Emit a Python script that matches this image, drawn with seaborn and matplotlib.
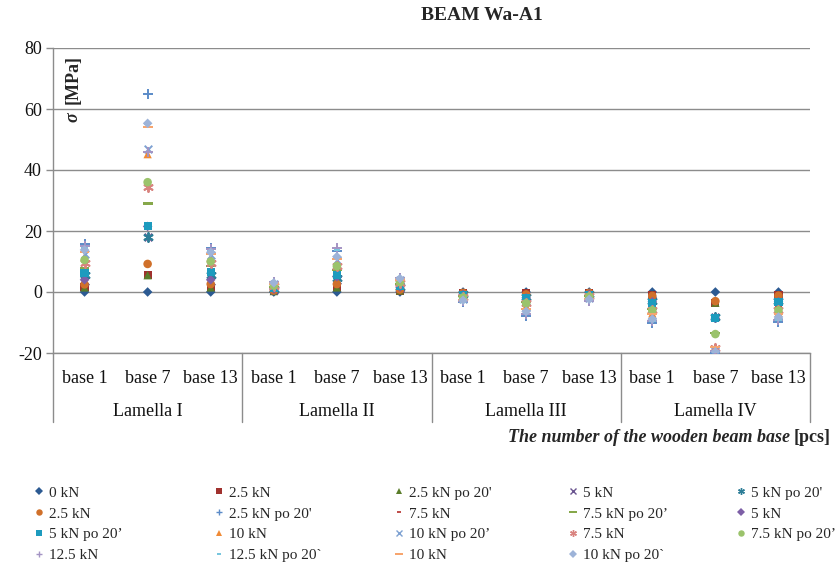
import numpy as np
import pandas as pd
import matplotlib
matplotlib.use("Agg")
import matplotlib.pyplot as plt
import matplotlib.transforms as mtransforms
from matplotlib.lines import Line2D
import seaborn as sns

# ---------------- data ----------------
lamellas = ["Lamella I", "Lamella II", "Lamella III", "Lamella IV"]
bases = ["base 1", "base 7", "base 13"]
categories = [f"{l} | {b}" for l in lamellas for b in bases]

y_ticks = [-20, 0, 20, 40, 60, 80]
title = "BEAM Wa-A1"

series_labels = ["0 kN", "2.5 kN", "2.5 kN po 20'", "5 kN", "5 kN po 20'",
                 "2.5 kN", "2.5 kN po 20'", "7.5 kN", "7.5 kN po 20’", "5 kN",
                 "5 kN po 20’", "10 kN", "10 kN po 20’", "7.5 kN", "7.5 kN po 20’",
                 "12.5 kN", "12.5 kN po 20`", "10 kN", "10 kN po 20`"]

s01 = [0.0, 0.0, 0.0, 0.0, 0.0, 0.0, 0.0, 0.0, 0.0, 0.0, 0.0, 0.0]
s02 = [1.5, 5.5, 1.5, 0.3, 1.5, 0.5, -0.2, -0.5, -0.2, -1.0, -3.5, -1.0]
s03 = [1.5, 5.5, 1.5, 0.3, 1.5, 0.5, -0.2, -0.5, -0.2, -1.0, -3.5, -1.0]
s04 = [3.5, 18.0, 3.5, 0.8, 4.0, 1.2, -0.5, -1.5, -0.5, -2.5, -8.3, -2.5]
s05 = [5.5, 18.0, 5.5, 1.0, 4.5, 1.5, -0.7, -1.7, -0.6, -3.0, -8.3, -3.0]
s06 = [2.5, 9.2, 2.6, 0.5, 2.6, 0.8, -0.3, -0.8, -0.3, -1.3, -3.0, -1.2]
s07 = [15.6, 65.0, 14.5, 3.4, 13.5, 4.7, -3.3, -7.8, -3.0, -10.0, -19.9, -9.8]
s08 = [7.0, 29.0, 7.5, 1.5, 7.0, 2.3, -1.2, -3.0, -1.0, -5.0, -13.5, -4.8]
s09 = [8.0, 29.0, 8.5, 1.7, 7.2, 2.6, -1.4, -3.2, -1.2, -5.5, -13.5, -5.2]
s10 = [4.0, 21.5, 4.0, 1.0, 5.0, 1.6, -0.8, -1.9, -0.7, -3.2, -8.6, -3.2]
s11 = [6.2, 21.6, 6.5, 1.3, 5.5, 2.0, -1.0, -2.0, -0.9, -3.6, -8.5, -3.2]
s12 = [11.5, 45.2, 11.0, 2.4, 9.5, 3.6, -2.1, -4.6, -1.8, -7.0, -18.0, -6.8]
s13 = [12.5, 46.9, 12.0, 2.6, 10.5, 3.9, -2.4, -5.0, -2.0, -7.5, -19.3, -7.5]
s14 = [9.5, 34.5, 9.5, 2.0, 8.5, 3.0, -1.7, -3.6, -1.4, -6.0, -18.3, -5.8]
s15 = [10.5, 36.0, 10.0, 2.1, 8.5, 3.2, -1.8, -3.7, -1.5, -6.0, -13.8, -6.0]
s16 = [15.0, 46.0, 14.0, 3.2, 14.5, 4.5, -3.0, -7.3, -2.8, -9.5, -19.5, -9.3]
s17 = [14.5, 55.0, 13.5, 3.1, 13.8, 4.3, -3.1, -7.0, -2.7, -9.3, -19.4, -9.0]
s18 = [13.0, 54.2, 12.5, 2.8, 10.8, 4.1, -2.5, -5.5, -2.2, -7.2, -18.1, -7.2]
s19 = [13.8, 55.3, 13.0, 3.0, 11.6, 4.4, -2.7, -6.4, -2.4, -8.9, -19.6, -8.2]
series_values = [s01, s02, s03, s04, s05, s06, s07, s08, s09, s10,
                 s11, s12, s13, s14, s15, s16, s17, s18, s19]

# ---------------- styles ----------------
long_dash = [(-1.0, -0.22), (1.0, -0.22), (1.0, 0.22), (-1.0, 0.22)]
short_dash = [(-1.0, -0.35), (1.0, -0.35), (1.0, 0.35), (-1.0, 0.35)]
star = (6, 2, 0)
styles = [
    ("D", "#2C5A92", 24, True),
    ("s", "#A0312E", 34, True),
    ("^", "#5A7D2A", 36, True),
    ("x", "#6A5590", 30, False),
    (star, "#2D7D97", 42, False),
    ("o", "#D0702A", 38, True),
    ("+", "#5B8BC8", 42, False),
    (short_dash, "#C0504D", 22, True),
    (long_dash, "#86A84A", 50, True),
    ("D", "#7D5FA6", 24, True),
    ("s", "#1D9BBE", 34, True),
    ("^", "#F08A35", 36, True),
    ("x", "#7EA1D2", 30, False),
    (star, "#D9837F", 42, False),
    ("o", "#9BC36B", 38, True),
    ("+", "#A494C4", 42, False),
    (short_dash, "#78C6DE", 22, True),
    (long_dash, "#F7A56E", 50, True),
    ("D", "#9DB3D8", 24, True),
]

# ---------------- figure ----------------
sns.set_style("white")
plt.rcParams["font.family"] = ["Liberation Serif", "DejaVu Serif"]
plt.rcParams["axes.unicode_minus"] = False

W, H = 835, 567
fig = plt.figure(figsize=(W / 100, H / 100), dpi=100)
ax_l, ax_r, ax_t, ax_b = 53, 810, 48, 353
ax = fig.add_axes([ax_l / W, 1 - ax_b / H, (ax_r - ax_l) / W, (ax_b - ax_t) / H])

for lab, vals, (mk, col, sz, filled) in zip(series_labels, series_values, styles):
    df = pd.DataFrame({"cat": categories, "val": vals})
    kw = dict(edgecolor="none") if filled else dict(linewidths=1.4)
    sns.scatterplot(data=df, x="cat", y="val", marker=mk, color=col, s=sz,
                    ax=ax, legend=False, zorder=3, **kw)

ax.set_xlim(-0.5, len(categories) - 0.5)
ax.set_ylim(-20, 80)
ax.set_yticks(y_ticks)
ax.yaxis.grid(True, color="#8C8C8C", linewidth=1.0)
ax.xaxis.grid(False)
ax.set_axisbelow(True)
for side in ["top", "right"]:
    ax.spines[side].set_visible(False)
for side in ["left", "bottom"]:
    ax.spines[side].set_color("#8C8C8C")
    ax.spines[side].set_linewidth(1.0)
ax.tick_params(axis="y", length=5, width=1.0, color="#8C8C8C", labelsize=13,
               labelcolor="#111111", pad=3, left=True)
ax.set_xticks(range(len(categories)))
ax.set_xticklabels([b for l in lamellas for b in bases])
ax.tick_params(axis="x", length=0, labelsize=13, labelcolor="#111111", pad=12)
ax.set_xlabel("")
ax.set_ylabel("")

# group separators and lamella labels
trans = mtransforms.blended_transform_factory(ax.transData, ax.transAxes)
sep_depth = -(422 - ax_b) / (ax_b - ax_t)
for b in np.arange(-0.5, len(categories), 3):
    ax.plot([b, b], [0, sep_depth], transform=trans, color="#8C8C8C",
            linewidth=1.0, clip_on=False)
lam_y = -(411 - ax_b) / (ax_b - ax_t)
for i, lam in enumerate(lamellas):
    ax.text(3 * i + 1, lam_y, lam, transform=trans, ha="center", va="center",
            fontsize=13, color="#111111")

# title
fig.text(482 / W, 1 - 15 / H, title, ha="center", va="center",
         fontsize=14, fontweight="bold")

# y label (inside plot)
fig.text(73 / W, 1 - 55 / H, "[MPa]", rotation=90, ha="center", va="top",
         fontsize=13, fontweight="bold")
fig.text(73 / W, 1 - 112 / H, "σ", rotation=90, ha="center", va="top",
         fontsize=13, fontweight="bold", fontstyle="italic")

# x axis title, right aligned
fig.canvas.draw()
r = fig.canvas.get_renderer()
t2 = fig.text(831 / W, 1 - 438 / H, "[pcs]", ha="right", va="center",
              fontsize=13, fontweight="bold")
ext = t2.get_window_extent(renderer=r)
fig.text((ext.x0 - 4) / W, 1 - 438 / H, "The number of the wooden beam base",
         ha="right", va="center", fontsize=13, fontweight="bold",
         fontstyle="italic")

# legend: 5 columns, row-major order as in the source
col_x = [34, 214, 394, 568, 736]
for c in range(5):
    idx = list(range(c, len(series_labels), 5))
    handles = []
    for i in idx:
        mk, col, sz, filled = styles[i]
        ms = np.sqrt(sz) * 0.75
        if filled:
            h = Line2D([], [], marker=mk, color=col, linestyle="None",
                       markersize=ms, markeredgewidth=0)
        else:
            h = Line2D([], [], marker=mk, color=col, linestyle="None",
                       markersize=ms, markeredgewidth=1.0)
        handles.append(h)
    fig.legend(handles, [series_labels[i] for i in idx], loc="upper left",
               bbox_to_anchor=(col_x[c] / W, 1 - 486 / H), frameon=False,
               fontsize=11, handlelength=0.65, handletextpad=0.3,
               labelspacing=0.47, borderpad=0, borderaxespad=0)

fig.savefig("out.png", dpi=100)
